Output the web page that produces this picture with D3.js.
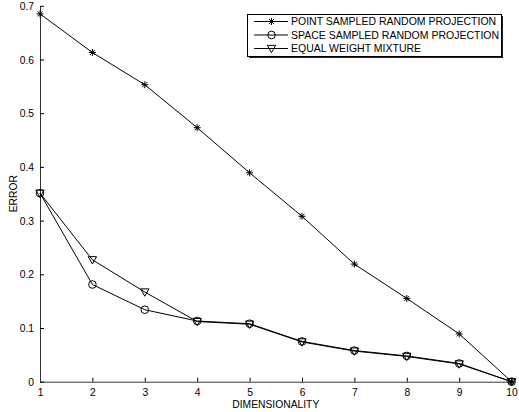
<!DOCTYPE html>
<html>
<head>
<meta charset="utf-8">
<script src="https://cdn.jsdelivr.net/npm/d3@7"></script>
<style>
  body { margin: 0; background: #fff; }
  text { font-family: "Liberation Sans", Arial, sans-serif; fill: #000; }
</style>
</head>
<body>
<div id="chart"></div>
<script>
var width = 519;
var height = 412;

// data
var dims = [1, 2, 3, 4, 5, 6, 7, 8, 9, 10];
var pointSampled = [0.685, 0.613, 0.553, 0.473, 0.389, 0.308, 0.219, 0.155, 0.089, 0.0];
var spaceSampled = [0.351, 0.181, 0.134, 0.113, 0.108, 0.075, 0.058, 0.048, 0.034, 0.0];
var equalWeight = [0.351, 0.227, 0.167, 0.112, 0.107, 0.074, 0.057, 0.047, 0.033, 0.0];
var seriesNames = ["POINT SAMPLED RANDOM PROJECTION", "SPACE SAMPLED RANDOM PROJECTION", "EQUAL WEIGHT MIXTURE"];
var markers = ["star", "circle", "triangle"];
var yTicks = [0, 0.1, 0.2, 0.3, 0.4, 0.5, 0.6, 0.7];

var xScale = d3.scaleLinear().domain([1, 10]).range([40, 511.6]);
var yScale = d3.scaleLinear().domain([0, 0.7]).range([381.7, 5.8]);

var svg = d3.select("#chart").append("svg")
  .attr("width", width)
  .attr("height", height);

// axes (ticks point inward, like matlab)
var xAxis = d3.axisBottom(xScale).tickValues(dims).tickFormat(d3.format("d"))
  .tickSizeInner(-4).tickSizeOuter(0).tickPadding(7);
var yAxis = d3.axisLeft(yScale).tickValues(yTicks).tickFormat(d => d === 0 ? "0" : d3.format(".1f")(d))
  .tickSizeInner(-4).tickSizeOuter(0).tickPadding(6);

var gx = svg.append("g")
  .attr("transform", "translate(0," + yScale(0) + ")")
  .call(xAxis);
var gy = svg.append("g")
  .attr("transform", "translate(" + xScale(1) + ",0)")
  .call(yAxis);

[gx, gy].forEach(function (g) {
  g.selectAll("path, line").attr("stroke", "#000").attr("stroke-width", 1);
  g.selectAll("text").style("font-size", "10.3px").style("fill", "#000");
  g.select(".domain").attr("stroke", "#333");
});
gy.selectAll(".tick text").attr("dy", "0.34em");

svg.append("text")
  .attr("x", (xScale(1) + xScale(10)) / 2)
  .attr("y", 408)
  .attr("text-anchor", "middle")
  .style("font-size", "10.3px")
  .text("DIMENSIONALITY");

svg.append("text")
  .attr("transform", "translate(16.5," + yScale(0.35) + ") rotate(-90)")
  .attr("text-anchor", "middle")
  .style("font-size", "10.3px")
  .text("ERROR");

function drawMarker(g, type, x, y) {
  if (type === "star") {
    var r = 3.5;
    [0, 45, 90, 135].forEach(function (a) {
      var rad = a * Math.PI / 180;
      g.append("line")
        .attr("x1", x - r * Math.cos(rad)).attr("y1", y - r * Math.sin(rad))
        .attr("x2", x + r * Math.cos(rad)).attr("y2", y + r * Math.sin(rad))
        .attr("stroke", "#000").attr("stroke-width", 1);
    });
  } else if (type === "circle") {
    g.append("circle")
      .attr("cx", x).attr("cy", y).attr("r", 3.8)
      .attr("fill", "none").attr("stroke", "#000").attr("stroke-width", 1);
  } else {
    var s = 4.2;
    g.append("path")
      .attr("d", "M" + (x - s) + "," + (y - s * 0.75) + "L" + (x + s) + "," + (y - s * 0.75) + "L" + x + "," + (y + s) + "Z")
      .attr("fill", "none").attr("stroke", "#000").attr("stroke-width", 1);
  }
}

var line = d3.line()
  .x(function (d, i) { return xScale(dims[i]); })
  .y(function (d) { return yScale(d); });

var allSeries = [pointSampled, spaceSampled, equalWeight];
allSeries.forEach(function (vals, k) {
  var g = svg.append("g");
  g.append("path")
    .attr("d", line(vals))
    .attr("fill", "none")
    .attr("stroke", "#000")
    .attr("stroke-width", 1);
  vals.forEach(function (v, i) {
    drawMarker(g, markers[k], xScale(dims[i]), yScale(v));
  });
});

// legend
var lg = svg.append("g");
lg.append("rect")
  .attr("x", 249).attr("y", 16)
  .attr("width", 254).attr("height", 42)
  .attr("fill", "#222");
lg.append("rect")
  .attr("x", 247.5).attr("y", 14.5)
  .attr("width", 254).attr("height", 42)
  .attr("fill", "#fff").attr("stroke", "#000").attr("stroke-width", 1);
var rowY = [21.5, 35, 48.5];
seriesNames.forEach(function (name, k) {
  lg.append("line")
    .attr("x1", 254).attr("x2", 288)
    .attr("y1", rowY[k]).attr("y2", rowY[k])
    .attr("stroke", "#000").attr("stroke-width", 1);
  drawMarker(lg, markers[k], 271.5, rowY[k]);
  lg.append("text")
    .attr("x", 291)
    .attr("y", rowY[k])
    .attr("dy", "0.35em")
    .style("font-size", "10.5px")
    .text(name);
});
</script>
</body>
</html>
